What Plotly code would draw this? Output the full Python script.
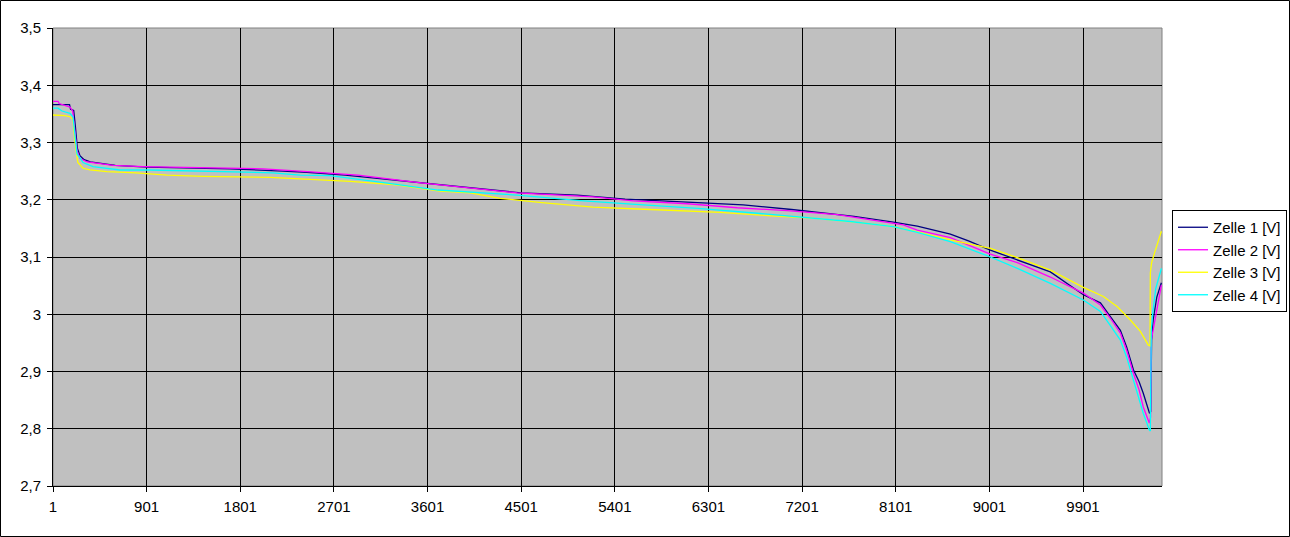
import plotly.graph_objects as go

# ---- data ----
series_names = ["Zelle 1 [V]", "Zelle 2 [V]", "Zelle 3 [V]", "Zelle 4 [V]"]
series_colors = ["#000080", "#FF00FF", "#FFFF00", "#00FFFF"]

z1_x = [1, 160, 170, 200, 215, 235, 260, 300, 360, 450, 600, 905, 1350, 1700, 2210, 2440, 2810,
        3200, 3626, 4107, 4500, 5039, 5500, 6097, 6635, 7100, 7700, 8078, 8308, 8626, 8800, 9010, 9270,
        9587, 9904, 10068, 10164, 10260, 10320, 10385, 10440, 10480, 10540, 10552, 10560, 10575, 10610, 10654]
z1_y = [3.366, 3.366, 3.358, 3.356, 3.33, 3.29, 3.277, 3.27, 3.266, 3.264, 3.26, 3.257, 3.256,
        3.254, 3.25, 3.248, 3.243, 3.236, 3.228, 3.219, 3.212, 3.208, 3.201, 3.196, 3.191, 3.183,
        3.171, 3.161, 3.154, 3.140, 3.128, 3.112, 3.095, 3.074, 3.034, 3.020, 2.996, 2.972, 2.943,
        2.903, 2.882, 2.862, 2.827, 2.83, 2.955, 2.99, 3.03, 3.055]

z2_x = [1, 49, 60, 116, 164, 190, 213, 232, 261, 330, 453, 578, 866, 1703, 2020, 2376, 2933,
        3558, 4010, 4462, 5193, 5578, 6097, 6578, 7058, 7539, 8174, 8308, 8626, 9010, 9270, 9587,
        9904, 10068, 10164, 10260, 10320, 10385, 10440, 10480, 10538, 10550, 10557, 10600, 10654]
z2_y = [3.372, 3.372, 3.368, 3.365, 3.362, 3.355, 3.32, 3.285, 3.272, 3.266, 3.263, 3.26, 3.258,
        3.256, 3.254, 3.25, 3.243, 3.229, 3.22, 3.212, 3.205, 3.198, 3.193, 3.186, 3.181, 3.174,
        3.156, 3.147, 3.134, 3.105, 3.09, 3.065, 3.037, 3.016, 2.993, 2.967, 2.937, 2.897, 2.868,
        2.838, 2.81, 2.82, 2.955, 3.0, 3.051]

z3_x = [1, 116, 164, 193, 213, 240, 290, 357, 520, 800, 1100, 1443, 2088, 2376, 2857, 3300, 3722,
        4010, 4299, 4700, 5193, 5741, 6058, 6414, 6900, 7300, 7800, 8078, 8308, 8626, 9010, 9270,
        9587, 9904, 10097, 10231, 10356, 10452, 10529, 10545, 10548, 10560, 10590, 10640, 10654]
z3_y = [3.348, 3.347, 3.345, 3.34, 3.30, 3.265, 3.255, 3.252, 3.249, 3.247, 3.243, 3.241, 3.239,
        3.236, 3.232, 3.226, 3.215, 3.212, 3.2025, 3.195, 3.187, 3.183, 3.181, 3.178, 3.172, 3.168,
        3.159, 3.153, 3.144, 3.130, 3.115, 3.099, 3.077, 3.047, 3.031, 3.013, 2.990, 2.970, 2.946,
        2.945, 3.072, 3.09, 3.108, 3.135, 3.145]

z4_x = [1, 49, 88, 164, 193, 213, 232, 261, 289, 386, 645, 934, 1414, 2116, 2376, 2664, 3180,
        3700, 4460, 5100, 5600, 6200, 6800, 7400, 7664, 8078, 8308, 8626, 9010, 9270, 9587, 9904,
        10068, 10164, 10260, 10320, 10385, 10440, 10480, 10538, 10548, 10557, 10570, 10600, 10654]
z4_y = [3.36, 3.36, 3.355, 3.351, 3.345, 3.31, 3.28, 3.273, 3.265, 3.258, 3.252, 3.252, 3.25,
        3.247, 3.243, 3.242, 3.23, 3.217, 3.208, 3.198, 3.192, 3.185, 3.176, 3.166, 3.162, 3.153,
        3.143, 3.127, 3.1, 3.08, 3.054, 3.025, 3.005, 2.98, 2.955, 2.925, 2.885, 2.855, 2.827,
        2.798, 2.796, 2.972, 3.0, 3.045, 3.08]

x_tick_vals = [1, 901, 1801, 2701, 3601, 4501, 5401, 6301, 7201, 8101, 9001, 9901]
x_tick_text = ["1", "901", "1801", "2701", "3601", "4501", "5401", "6301", "7201", "8101", "9001", "9901"]
y_tick_vals = [2.7, 2.8, 2.9, 3.0, 3.1, 3.2, 3.3, 3.4, 3.5]
y_tick_text = ["2,7", "2,8", "2,9", "3", "3,1", "3,2", "3,3", "3,4", "3,5"]

# ---- figure ----
W, H = 1290, 537
ML, MR, MT, MB = 53, 128, 28, 51
PW, PH = W - ML - MR, H - MT - MB

fig = go.Figure()
for name, color, xs, ys in zip(series_names, series_colors,
                               [z1_x, z2_x, z3_x, z4_x], [z1_y, z2_y, z3_y, z4_y]):
    fig.add_trace(go.Scatter(x=xs, y=ys, mode="lines", name=name,
                             line=dict(color=color, width=1.3)))

font = dict(family="Liberation Sans, Arial, sans-serif", size=15, color="black")

fig.update_layout(
    width=W, height=H,
    margin=dict(l=ML, r=MR, t=MT, b=MB, pad=0, autoexpand=False),
    paper_bgcolor="white",
    plot_bgcolor="#C0C0C0",
    font=font,
    showlegend=True,
    legend=dict(x=(1172 - ML) / PW, y=(H - MB - 210) / PH, xanchor="left", yanchor="top",
                bgcolor="white", bordercolor="black", borderwidth=1,
                font=dict(family="Liberation Sans, Arial, sans-serif", size=15, color="black"),
                itemwidth=30, tracegroupgap=0),
    xaxis=dict(range=[1, 10660], tickmode="array", tickvals=x_tick_vals, ticktext=x_tick_text,
               showgrid=True, gridcolor="black", gridwidth=1, zeroline=False,
               showline=True, linecolor="black", linewidth=1,
               ticks="outside", ticklen=5, tickcolor="black", tickfont=font,
               ticklabelstandoff=2),
    yaxis=dict(range=[2.7, 3.5], tickmode="array", tickvals=y_tick_vals, ticktext=y_tick_text,
               showgrid=True, gridcolor="black", gridwidth=1, zeroline=False,
               showline=True, linecolor="black", linewidth=1,
               ticks="outside", ticklen=5, tickcolor="black", tickfont=font,
               ticklabelstandoff=3),
    shapes=[
        dict(type="rect", xref="paper", yref="paper", x0=0, x1=1, y0=0, y1=1,
             line=dict(color="#808080", width=1), fillcolor="rgba(0,0,0,0)", layer="between"),
        dict(type="rect", xref="paper", yref="paper",
             x0=-(ML - 0.5) / PW, x1=1 + (MR - 0.5) / PW,
             y0=-(MB - 0.5) / PH, y1=1 + (MT - 0.5) / PH,
             line=dict(color="black", width=1), fillcolor="rgba(0,0,0,0)", layer="above"),
    ],
)

fig.write_html("out.html", config={"displayModeBar": False},
               post_script="document.body.style.margin='0';document.body.style.overflow='hidden';")
